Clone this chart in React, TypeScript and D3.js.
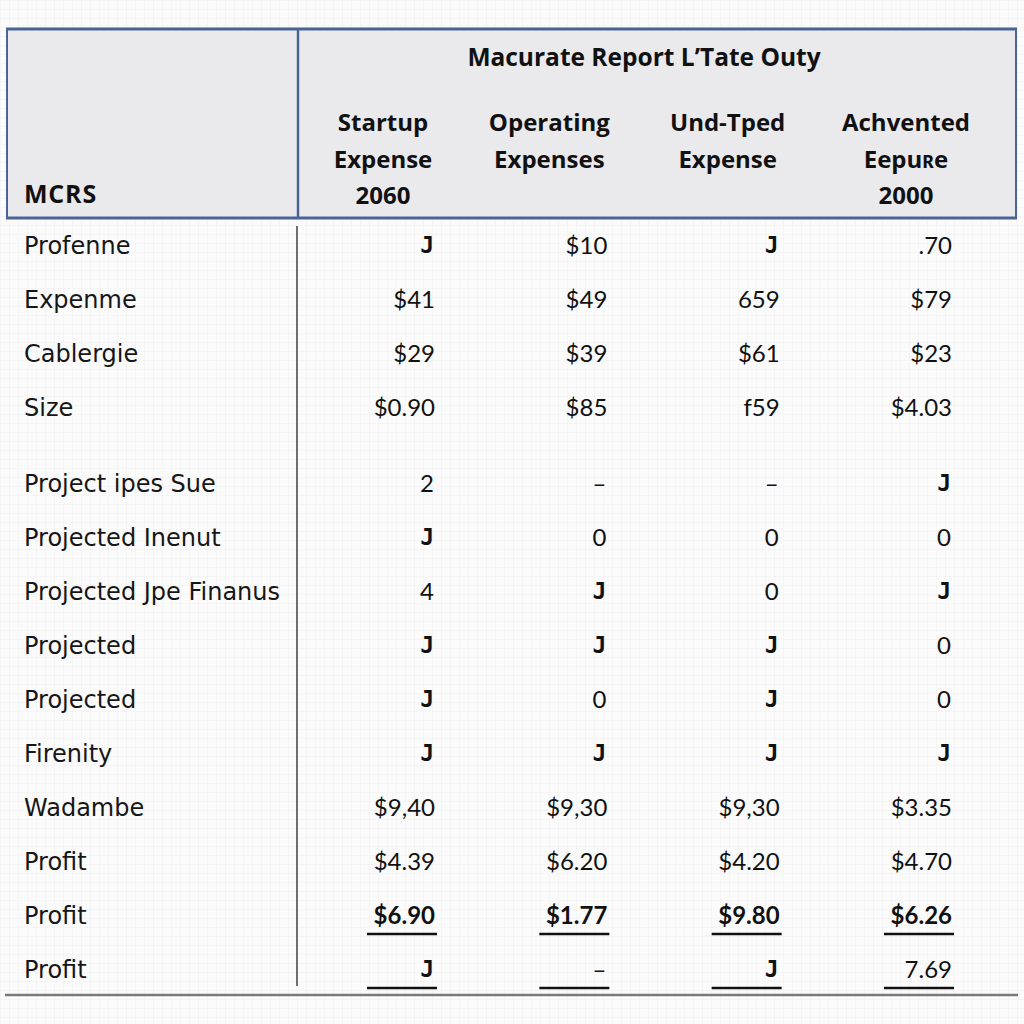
import React from "react";
import * as d3 from "d3";

const title = "Macurate Report L\u2019Tate Outy";
const stubHeader = "MCRS";
const columns = ["Startup", "Operating", "Und-Tped", "Achvented"];
const columnHeaders: string[][] = [
  ["Startup", "Expense", "2060"],
  ["Operating", "Expenses"],
  ["Und-Tped", "Expense"],
  ["Achvented", "Eepu\u0280e", "2000"],
];
const rowLabels = [
  "Profenne",
  "Expenme",
  "Cablergie",
  "Size",
  "Project ipes Sue",
  "Projected Inenut",
  "Projected Jpe Finanus",
  "Projected",
  "Projected",
  "Firenity",
  "Wadambe",
  "Profit",
  "Profit",
  "Profit",
];
const startupValues = ["J", "$41", "$29", "$0.90", "2", "J", "4", "J", "J", "J", "$9,40", "$4.39", "$6.90", "J"];
const operatingValues = ["$10", "$49", "$39", "$85", "\u2013", "0", "J", "J", "0", "J", "$9,30", "$6.20", "$1.77", "\u2013"];
const undTpedValues = ["J", "659", "$61", "f59", "\u2013", "0", "0", "J", "J", "J", "$9,30", "$4.20", "$9.80", "J"];
const achventedValues = [".70", "$79", "$23", "$4.03", "J", "0", "J", "0", "0", "J", "$3.35", "$4.70", "$6.26", "7.69"];
const seriesValues = [startupValues, operatingValues, undTpedValues, achventedValues];
const boldRows = [12];
const underlinedRows = [12, 13];
const groupBreakAfter = 3;

const monoSet = new Set(["J"]);
const plainDigitSet = new Set(["0", "2", "4", "\u2013"]);

export default function App() {
  const W = 1024;
  const H = 1024;
  const x = d3.scalePoint<string>().domain(columns).range([435, 952]);
  const yIdx = d3.scaleLinear().domain([0, 1]).range([245, 299]);
  const rowY = (i: number) => yIdx(i) + (i > groupBreakAfter ? 22 : 0);
  const sans = "Lato, 'Open Sans', sans-serif";
  const headFont = "'Open Sans', Lato, sans-serif";
  const labelFont = "'DejaVu Sans', Verdana, sans-serif";
  const mono = "'DejaVu Sans Mono', 'Liberation Mono', monospace";
  const headerBlue = "#4a6496";

  return (
    <svg width={W} height={H} viewBox={`0 0 ${W} ${H}`} style={{ position: "absolute", left: 0, top: 0, background: "#fbfbfb" }}>
      <defs>
        <pattern id="grid" width="9" height="9" patternUnits="userSpaceOnUse">
          <path d="M9 0 L0 0 0 9" fill="none" stroke="#f0f0f2" strokeWidth={1} />
        </pattern>
      </defs>
      <rect x={0} y={0} width={W} height={H} fill="url(#grid)" />
      {/* header box */}
      <rect x={7} y={29} width={1009} height={189} fill="#eaeaed" stroke={headerBlue} strokeWidth={2} />
      <line x1={6} x2={1017} y1={29} y2={29} stroke={headerBlue} strokeWidth={3} />
      <line x1={6} x2={1017} y1={218} y2={218} stroke={headerBlue} strokeWidth={3} />
      <line x1={298} x2={298} y1={29} y2={218} stroke={headerBlue} strokeWidth={2.5} />
      <text x={644} y={66} textAnchor="middle" fontFamily={headFont} fontWeight={700} fontSize={24.5} fill="#111">
        {title}
      </text>
      <text x={24} y={203} fontFamily={headFont} fontWeight={700} fontSize={25} letterSpacing={0.8} fill="#111">
        {stubHeader}
      </text>
      {columns.map((c, ci) =>
        columnHeaders[ci].map((line, li) => (
          <text
            key={c + li}
            x={(x(c) as number) - 52 + (ci === 3 ? 6 : 0) - (ci === 1 ? 6 : 0)}
            y={131 + li * 36.5}
            textAnchor="middle"
            fontFamily={headFont}
            fontWeight={700}
            fontSize={24}
            fill="#111"
          >
            {line}
          </text>
        ))
      )}
      {/* body lines */}
      <line x1={297} x2={297} y1={226} y2={986} stroke="#6e6e6e" strokeWidth={2} />
      <line x1={5} x2={1018} y1={995} y2={995} stroke="#7a7a7a" strokeWidth={2.5} />
      {rowLabels.map((lab, i) => (
        <text key={"l" + i} x={24} y={rowY(i)} dy="0.36em" fontFamily={labelFont} fontSize={24} fill="#161616">
          {lab}
        </text>
      ))}
      {seriesValues.map((vals, ci) =>
        vals.map((v, i) => {
          const isMono = monoSet.has(v);
          const isPlain = plainDigitSet.has(v);
          const bold = boldRows.includes(i);
          return (
            <text
              key={"v" + ci + "-" + i}
              x={(x(columns[ci]) as number) - (isMono ? 1 : isPlain ? 1 : 0)}
              y={rowY(i)}
              dy="0.36em"
              textAnchor="end"
              fontFamily={isMono ? mono : sans}
              fontWeight={bold || isMono ? 700 : 400}
              fontSize={isMono ? 23 : 24}
              fill="#111"
            >
              {v}
            </text>
          );
        })
      )}
      {underlinedRows.map((ri) =>
        columns.map((c) => (
          <line
            key={"u" + ri + c}
            x1={(x(c) as number) - 68}
            x2={(x(c) as number) + 2}
            y1={rowY(ri) + 19}
            y2={rowY(ri) + 19}
            stroke="#111"
            strokeWidth={2.5}
          />
        ))
      )}
    </svg>
  );
}
